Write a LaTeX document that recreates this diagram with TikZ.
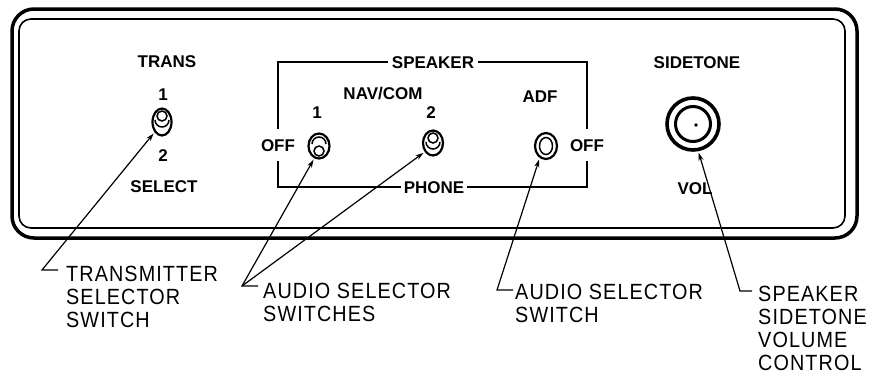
\documentclass[tikz,border=0pt]{standalone}
\usepackage{fontspec}
\setmainfont{Liberation Sans}
\newfontfamily\lowfont{Liberation Sans}[LetterSpace=5,FakeStretch=0.9]
\usetikzlibrary{arrows.meta,shapes.geometric}
\begin{document}
\begin{tikzpicture}[x=1pt,y=-1pt,
  plabel/.style={font=\bfseries\fontsize{17}{19}\selectfont, inner sep=0pt, anchor=base},
  gaplabel/.style={plabel, inner xsep=3pt, inner ysep=10pt},
  lowlabel/.style={font=\lowfont\fontsize{22}{23}\selectfont, align=left, anchor=north west, inner sep=0pt},
  sbox/.style={line width=2.6pt},
  swoval/.style={draw, ellipse, line width=2.2pt, inner sep=0pt},
  swin/.style={line width=1.5pt},
  lead/.style={line width=1.2pt, -{Stealth[length=8pt,width=5pt]}, shorten >=1.5pt}]
\useasboundingbox (0,0) rectangle (874,375);
% panel
\draw[line width=3.5pt, rounded corners=22pt] (12,9) rectangle (857,238);
\draw[line width=1.6pt, rounded corners=12pt] (19,19) rectangle (845,228);
% transmitter selector
\node[plabel] (trans) at (167,67) {TRANS};
\node[plabel] (tone) at (163,100) {1};
\node[swoval, minimum width=19pt, minimum height=27pt] (tsw) at (162,122) {};
\draw[swin] (162,116) circle [radius=5];
\draw[swin] (169,120) arc [start angle=0, end angle=180, radius=7];
\node[plabel] (ttwo) at (163,161) {2};
\node[plabel] (select) at (164,192) {SELECT};
% speaker / phone box
\node[plabel, inner xsep=3.5pt] (spk) at (433,68) {SPEAKER};
\node[plabel] (navcom) at (383,99) {NAV/COM};
\node[plabel] (none) at (317,118) {1};
\node[plabel] (ntwo) at (431,118) {2};
\node[plabel] (adf) at (540,102) {ADF};
\node[gaplabel] (offl) at (278,151) {OFF};
\node[gaplabel] (offr) at (587,151) {OFF};
\node[plabel, inner xsep=3pt] (phone) at (434,193) {PHONE};
\draw[sbox] (spk.west) -| (offl.north);
\draw[sbox] (offl.south) |- (phone.west);
\draw[sbox] (spk.east) -| (offr.north);
\draw[sbox] (offr.south) |- (phone.east);
% nav/com switches
\node[swoval, minimum width=21pt, minimum height=25pt] (nsw1) at (319,146) {};
\draw[swin] (319,151) circle [radius=5];
\draw[swin] (312,144) arc [start angle=180, end angle=360, radius=7];
\node[swoval, minimum width=20pt, minimum height=25pt] (nsw2) at (433,143) {};
\draw[swin] (433,138) circle [radius=5];
\draw[swin] (440,142) arc [start angle=0, end angle=180, radius=7];
% adf switch
\node[swoval, minimum width=22pt, minimum height=26pt] (asw) at (546,146) {};
\draw[swin] (546,146) ellipse [x radius=6.5, y radius=8.5];
% sidetone
\node[plabel] (side) at (697,68) {SIDETONE};
\node[circle, draw, line width=3.6pt, minimum size=52pt, inner sep=0pt] (knob) at (693,124) {};
\draw[line width=3pt] (693,124) circle [radius=17.5];
\fill (696,125) circle [radius=1.8];
\node[plabel] (vol) at (695,194) {VOL};
% lower labels
\node[lowlabel] (ltrans) at (66,266) {TRANSMITTER\\SELECTOR\\SWITCH};
\node[lowlabel] (laudio) at (263,283) {AUDIO SELECTOR\\SWITCHES};
\node[lowlabel] (ladf) at (515,284) {AUDIO SELECTOR\\SWITCH};
\node[lowlabel] (lspk) at (758,286) {SPEAKER\\SIDETONE\\VOLUME\\CONTROL};
% leaders
\coordinate (trv) at (42,270);
\coordinate (trt) at (58,270);
\coordinate (auv) at (242,286);
\coordinate (aut) at (258,286);
\coordinate (adv) at (497,290);
\coordinate (adt) at (513,290);
\coordinate (knv) at (740,291);
\coordinate (knt) at (752,291);
\draw[lead] (trt) -- (trv) -- (tsw.234);
\draw[lead] (aut) -- (auv) -- (nsw1.249);
\draw[lead] (auv) -- (nsw2.227);
\draw[lead] (adt) -- (adv) -- (asw.242);
\draw[lead] (knt) -- (knv) -- (knob.281);
\end{tikzpicture}
\end{document}
